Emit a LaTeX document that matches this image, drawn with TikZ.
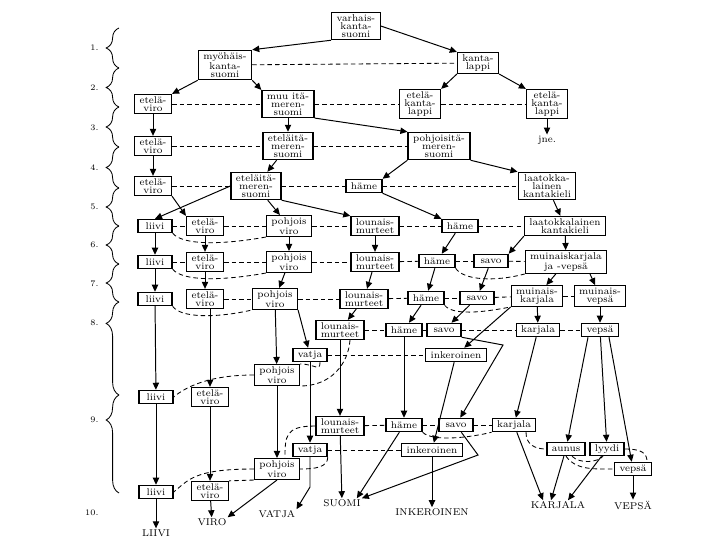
\documentclass[tikz,border=0pt]{standalone}
\usetikzlibrary{arrows.meta,calc,decorations.pathreplacing}

\begin{document}
\begin{tikzpicture}[x=0.025cm,y=-0.025cm,->,>={Triangle[length=5pt,width=4.5pt]},line width=0.7pt,
    box/.style={draw,rectangle,line width=0.9pt,align=center,inner xsep=3.5pt,inner ysep=1.4pt,
      minimum width=0.85cm,minimum height=0.33cm,font=\fontsize{7}{5.8}\selectfont},
    link/.style={-,dash pattern=on 3.2pt off 2.2pt,line width=0.6pt},
    lbl/.style={inner sep=0.5pt,font=\fontsize{7}{8}\selectfont},
    num/.style={anchor=east,inner sep=0pt,font=\fontsize{6}{7}\selectfont}]
  \useasboundingbox (0,0) rectangle (720,540);

  % periods
  \foreach \ya/\yb/\asp in {68/28/0.5,107/68/0.5,147/107/0.5,188/147/0.5,226/188/0.5,
      264/226/0.5,302/264/0.5,395/302/0.77,493/395/0.745}
    \draw[-,line width=0.6pt,decorate,decoration={brace,amplitude=0.32cm,aspect=\asp}] (119,\ya) -- (119,\yb);
  \foreach \n/\y in {1/48,2/88,3/128,4/168,5/207,6/245,7/284,8/323,9/420,10/513}
    \node[num] (p\n) at (99,\y) {\n.};

  % stages 0-4
  \node[box] (vks) at (356,26) {varhais-\\kanta-\\suomi};
  \node[box] (mks) at (225,65) {myöhäis-\\kanta-\\suomi};
  \node[box] (kl) at (478,63) {kanta-\\lappi};
  \node[box] (ev2) at (153,104) {etelä-\\viro};
  \node[box] (mis) at (288,104) {muu itä-\\meren-\\suomi};
  \node[box] (ekl1) at (420,104) {etelä-\\kanta-\\lappi};
  \node[box] (ekl2) at (547,104) {etelä-\\kanta-\\lappi};
  \node[lbl] (jne) at (547,140) {jne.};
  \node[box] (ev3) at (153,146) {etelä-\\viro};
  \node[box] (eis3) at (288,146) {eteläitä-\\meren-\\suomi};
  \node[box] (pis) at (439,146) {pohjoisitä-\\meren-\\suomi};
  \node[box] (ev4) at (153,186) {etelä-\\viro};
  \node[box] (eis4) at (256,186) {eteläitä-\\meren-\\suomi};
  \node[box] (hm4) at (364,186) {häme};
  \node[box] (lk4) at (547,186) {laatokka-\\lainen\\kantakieli};

  % stages 5-7
  \node[box] (li5) at (155,226) {liivi};
  \node[box] (ev5) at (205,226) {etelä-\\viro};
  \node[box] (pv5) at (289,226) {pohjois\\viro};
  \node[box] (lm5) at (375,226) {lounais-\\murteet};
  \node[box] (hm5) at (460,226) {häme};
  \node[box] (lk5) at (565,226) {laatokkalainen\\kantakieli};
  \node[box] (li6) at (155,262) {liivi};
  \node[box] (ev6) at (205,262) {etelä-\\viro};
  \node[box] (pv6) at (289,262) {pohjois\\viro};
  \node[box] (lm6) at (375,262) {lounais-\\murteet};
  \node[box] (hm6) at (437,261) {häme};
  \node[box] (sv6) at (491,261) {savo};
  \node[box] (mkv) at (566,262) {muinaiskarjala\\ja -vepsä};
  \node[box] (li7) at (155,299) {liivi};
  \node[box] (ev7) at (205,299) {etelä-\\viro};
  \node[box] (pv7) at (275,299) {pohjois\\viro};
  \node[box] (lm7) at (364,299) {lounais-\\murteet};
  \node[box] (hm7) at (426,298) {häme};
  \node[box] (sv7) at (477,298) {savo};
  \node[box] (mk7) at (537,296) {muinais-\\karjala};
  \node[box] (mv7) at (600,296) {muinais-\\vepsä};

  % stages 8-9
  \node[box] (lm8) at (340,330) {lounais-\\murteet};
  \node[box] (hm8) at (404,330) {häme};
  \node[box] (sv8) at (444,330) {savo};
  \node[box] (kj8) at (538,330) {karjala};
  \node[box] (vp8) at (600,330) {vepsä};
  \node[box] (vt8) at (310,355) {vatja};
  \node[box] (ik8) at (456,355) {inkeroinen};
  \node[box] (pv8) at (277,375) {pohjois\\viro};
  \node[box] (li9) at (156,397) {liivi};
  \node[box] (ev9) at (210,397) {etelä-\\viro};
  \node[box] (lm9) at (340,426) {lounais-\\murteet};
  \node[box] (hm9) at (404,425) {häme};
  \node[box] (sv9) at (456,425) {savo};
  \node[box] (kj9) at (514,425) {karjala};
  \node[box] (vt9) at (310,450) {vatja};
  \node[box] (ik9) at (432,450) {inkeroinen};
  \node[box] (au9) at (566,449) {aunus};
  \node[box] (ly9) at (607,449) {lyydi};
  \node[box] (vp9) at (633,469) {vepsä};
  \node[box] (pv9) at (277,469) {pohjois\\viro};
  \node[box] (li10) at (156,492) {liivi};
  \node[box] (ev10) at (210,491) {etelä-\\viro};

  % today
  \node[lbl] (liivi) at (156,533) {LIIVI};
  \node[lbl] (viro) at (212,522) {VIRO};
  \node[lbl] (vatja) at (277,514) {VATJA};
  \node[lbl] (suomi) at (342,503) {SUOMI};
  \node[lbl] (inker) at (432,512) {INKEROINEN};
  \node[lbl] (karjala) at (558,505) {KARJALA};
  \node[lbl] (vepsa) at (633,505) {VEPSÄ};

  \coordinate (sk) at (503,345);
  \coordinate (vk) at (310,487);
  \coordinate (sb) at (478,455);

  \path (vks.south west) edge (mks.north east)
    (vks.east) edge (kl.north west)
    (mks.south west) edge (ev2.north east)
    (mks.south east) edge (mis.north west)
    (kl.south west) edge (ekl1.north east)
    (kl.south east) edge (ekl2.north west)
    (ekl2) edge (jne)
    (ev2) edge (ev3)
    (mis) edge (eis3)
    (mis.south east) edge (pis.north west)
    (ev3) edge (ev4)
    (eis3) edge (eis4)
    (pis.south west) edge (hm4.north east)
    (pis.south east) edge (lk4.north west)
    (ev4.south east) edge (ev5.north west)
    (eis4.west) edge (li5.north)
    (eis4) edge (pv5)
    (eis4.south east) edge (lm5.north west)
    (hm4.south east) edge (hm5.north west)
    (lk4) edge (lk5)
    (li5) edge (li6) (ev5) edge (ev6) (pv5) edge (pv6) (lm5) edge (lm6)
    (hm5) edge (hm6)
    (lk5.south west) edge (sv6.north east)
    (lk5) edge (mkv)
    (li6) edge (li7) (ev6) edge (ev7) (pv6) edge (pv7) (lm6) edge (lm7)
    (hm6) edge (hm7) (sv6) edge (sv7)
    (mkv) edge (mk7)
    ($(mkv.south)+(24,0)$) edge (mv7)
    (lm7) edge (lm8) (hm7) edge (hm8) (sv7) edge (sv8)
    (mk7) edge (kj8) (mv7) edge (vp8)
    (mk7.south west) edge (ik8)
    (pv7.south east) edge (vt8)
    (pv7) edge (pv8)
    (li7) edge (li9)
    (ev7.south -| ev9) edge (ev9)
    (lm8) edge (lm9) (hm8) edge (hm9) (ik8) edge (ik9) (kj8) edge (kj9)
    (vt8) edge (vt9) (pv8) edge (pv9)
    ($(vp8.south)+(-12,0)$) edge (au9)
    (vp8) edge (ly9)
    ($(vp8.south)+(9,0)$) edge (vp9)
    (li9) edge (li10) (li10) edge (liivi)
    (ev9) edge (ev10) (ev10) edge (viro)
    (pv9.south) edge (viro.north east)
    (lm9) edge (suomi)
    (hm9) edge ($(suomi.north east)+(-5,0)$)
    (ik9) edge (inker)
    (kj9) edge ($(karjala.north)+(-15,0)$)
    (au9) edge ($(karjala.north)+(-7,0)$)
    (ly9) edge ($(karjala.north)+(10,0)$)
    (vp9) edge (vepsa);
  \draw (sv8.south east) -- (sk) -- (sv9);
  \draw (vt9) -- (vk) -- (vatja.north east);
  \draw (sv9) -- (sb) -- (suomi.north east);

  % contacts
  \path[link] (mks) edge (kl)
    (ev2) edge (mis) (mis) edge (ekl1) (ekl1) edge (ekl2)
    (ev3) edge (eis3) (eis3) edge (pis)
    (ev4) edge (eis4) (eis4) edge (hm4) (hm4) edge (lk4)
    (li5) edge (ev5) (ev5) edge (pv5) (pv5) edge (lm5) (lm5) edge (hm5) (hm5) edge (lk5)
    (li6) edge (ev6) (ev6) edge (pv6) (pv6) edge (lm6) (lm6) edge (hm6) (hm6) edge (sv6) (sv6) edge (mkv)
    (ev7) edge (pv7) (pv7) edge (lm7) (lm7) edge (hm7) (hm7) edge (sv7) (sv7) edge (mk7) (mk7) edge (mv7)
    (lm8) edge (hm8) (hm8) edge (sv8) (sv8) edge (kj8) (kj8) edge (vp8)
    (vt8) edge (ik8)
    (lm9) edge (hm9) (hm9) edge (sv9) (sv9) edge (kj9)
    (vt9) edge (ik9)
    (pv9.south west) edge (ev10.north east);
  \draw[link] (li5.south east) .. controls +(10,12) and +(-45,8) .. (pv5.south west);
  \draw[link] (li6.south east) .. controls +(10,12) and +(-45,8) .. (pv6.south west);
  \draw[link] (li7.south east) .. controls +(8,12) and +(-35,8) .. (pv7.south west);
  \draw[link] (hm6.south east) .. controls +(8,12) and +(-30,8) .. (mkv.south west);
  \draw[link] (hm7.south east) .. controls +(8,10) and +(-30,6) .. (mk7.south west);
  \draw[link] ($(lm8.south)+(10,0)$) .. controls +(-2,25) and +(30,0) .. (pv8.south east);
  \draw[link] ($(vt8.south)+(10,0)$) .. controls +(0,10) and +(15,0) .. (pv8.north east);
  \draw[link] (pv8.west) .. controls +(-45,0) and +(12,-10) .. (li9.east);
  \draw[link] (hm9.south east) .. controls +(10,10) and +(-20,5) .. (kj9.south west);
  \draw[link] (lm9.west) .. controls +(-30,0) and +(0,-22) .. ($(pv9.north)+(8,0)$);
  \draw[link] (vt9.south east) .. controls +(0,10) and +(15,0) .. (pv9.east);
  \draw[link] (pv9.west) .. controls +(-60,0) and +(15,-12) .. (li10.east);
  \draw[link] ($(kj9.south)+(12,0)$) .. controls +(0,12) and +(-12,0) .. (au9.west);
  \draw[link] (ly9.east) .. controls +(18,0) and +(0,-8) .. ($(vp9.north east)+(-5,0)$);
  \draw[link] (au9.south) .. controls +(10,14) and +(-20,0) .. (vp9.west);
  \draw[link] ($(au9.south)+(6,0)$) .. controls +(8,8) and +(-5,6) .. ($(ly9.south)+(-4,0)$);
\end{tikzpicture}
\end{document}
